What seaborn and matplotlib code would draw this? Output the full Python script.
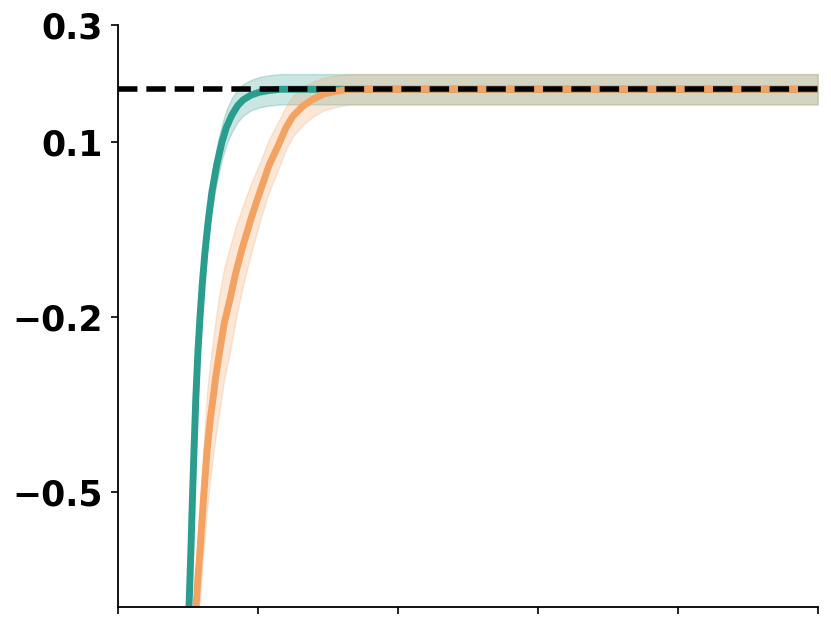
import numpy as np
import pandas as pd
import matplotlib
matplotlib.use("Agg")
import matplotlib.pyplot as plt
import seaborn as sns

# valores
green_x = [50, 50.7, 51.4, 52.1, 53.2, 54.3, 55.6, 57.1, 58.6, 60.2, 62.1, 64.5, 67.1,
           70.5, 74.3, 77.5, 81.4, 85.5, 89.5, 95, 101, 108, 116, 500]
green_y = [-0.77, -0.70, -0.65, -0.60, -0.51, -0.43, -0.34, -0.26, -0.20, -0.145, -0.09,
           -0.035, 0.014, 0.06, 0.10, 0.125, 0.146, 0.162, 0.172, 0.180, 0.185, 0.188,
           0.190, 0.190]
green_sd = [0.02, 0.02, 0.02, 0.021, 0.022, 0.023, 0.024, 0.025, 0.026, 0.027, 0.028,
            0.029, 0.03, 0.03, 0.03, 0.03, 0.029, 0.028, 0.027, 0.026, 0.026, 0.026,
            0.026, 0.026]

orange_x = [55, 55.7, 57, 58.6, 61, 63.6, 66, 67.9, 70, 72.9, 76, 80, 84, 88.6, 95,
            101.4, 108, 115.7, 120, 125, 132, 139.3, 147, 156.4, 165, 500]
orange_y = [-0.76, -0.70, -0.65, -0.60, -0.515, -0.43, -0.375, -0.34, -0.30, -0.255,
            -0.21, -0.17, -0.126, -0.084, -0.032, 0.014, 0.06, 0.10, 0.124, 0.144,
            0.161, 0.173, 0.182, 0.187, 0.19, 0.19]
orange_sd = [0.06, 0.06, 0.07, 0.08, 0.09, 0.1, 0.1, 0.1, 0.1, 0.1, 0.095, 0.09, 0.08,
             0.07, 0.06, 0.05, 0.045, 0.04, 0.037, 0.035, 0.032, 0.03, 0.028, 0.027,
             0.026, 0.026]

target = 0.19
y_ticks = [0.3, 0.1, -0.2, -0.5]
x_ticks = [0, 100, 200, 300, 400, 500]

sns.set_style("ticks")
plt.rcParams["font.family"] = ["DejaVu Sans"]

df_g = pd.DataFrame({"x": green_x, "y": green_y, "sd": green_sd})
df_o = pd.DataFrame({"x": orange_x, "y": orange_y, "sd": orange_sd})

fig = plt.figure(figsize=(8.31, 6.27), dpi=100)
ax = fig.add_axes([0.142, 0.032, 0.842, 0.928])

verde = "#2a9d8f"
naranja = "#f4a261"

ax.fill_between(df_g["x"], df_g["y"] - df_g["sd"], df_g["y"] + df_g["sd"],
                color=verde, alpha=0.25, linewidth=1)
sns.lineplot(data=df_g, x="x", y="y", ax=ax, color=verde, linewidth=5)
ax.fill_between(df_o["x"], df_o["y"] - df_o["sd"], df_o["y"] + df_o["sd"],
                color=naranja, alpha=0.25, linewidth=1)
sns.lineplot(data=df_o, x="x", y="y", ax=ax, color=naranja, linewidth=5)

ax.axhline(target, color="black", linewidth=4, linestyle=(0, (3.5, 1.6)))

ax.set_xlim(0, 500)
ax.set_ylim(-0.697, 0.3)
ax.set_xticks(x_ticks)
ax.set_xticklabels([])
ax.set_yticks(y_ticks)
ax.set_yticklabels([f"{v:.1f}".replace("-", "\u2212") for v in y_ticks],
                   fontsize=25, fontweight="bold", color="black")
ax.set_xlabel("")
ax.set_ylabel("")
ax.tick_params(length=5, width=1.2, pad=6, color="black")
for s in ["left", "bottom"]:
    ax.spines[s].set_linewidth(1.3)
    ax.spines[s].set_color("black")
sns.despine(ax=ax)

plt.savefig("out.png", dpi=100)
